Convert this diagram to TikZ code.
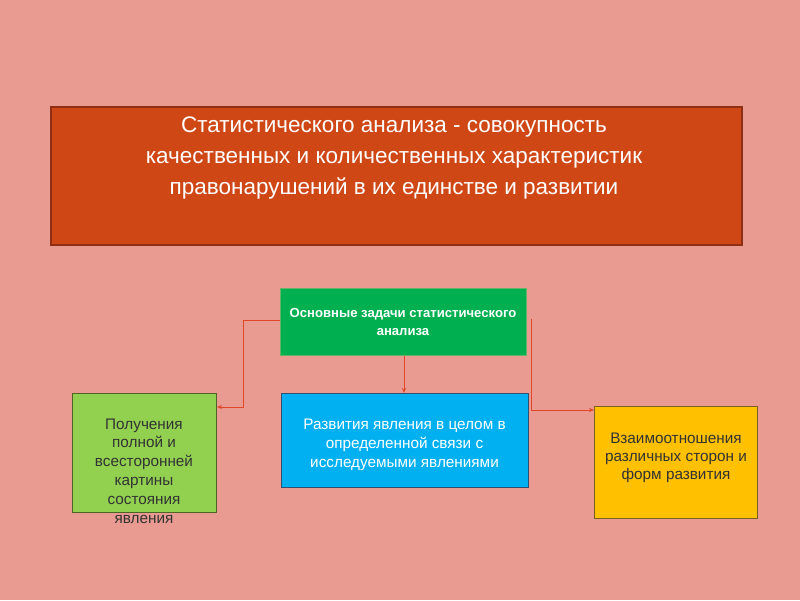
\documentclass[tikz,border=0pt]{standalone}
\usepackage{fontspec}
\setmainfont{Liberation Sans}
\usetikzlibrary{arrows.meta}
\definecolor{bgc}{HTML}{E99A91}
\definecolor{titlec}{HTML}{D04716}
\definecolor{titleb}{HTML}{8E2E12}
\definecolor{greenc}{HTML}{00B050}
\definecolor{bluec}{HTML}{00B0F0}
\definecolor{blueb}{HTML}{2F4F6F}
\definecolor{lgreenc}{HTML}{92D050}
\definecolor{lgreenb}{HTML}{4F6228}
\definecolor{yellowc}{HTML}{FFC000}
\definecolor{yellowb}{HTML}{7F5F20}
\definecolor{linec}{HTML}{E0472A}
\definecolor{darktext}{HTML}{333333}
\tikzset{
  box/.style={draw, line width=1pt, inner sep=0pt},
  lbl/.style={align=center, inner sep=0pt},
  conn/.style={draw=linec, line width=0.9pt, -{Stealth[length=5pt,width=4pt]}}
}
\begin{document}
\begin{tikzpicture}[x=1pt,y=-1pt]
\fill[bgc] (0,0) rectangle (800,600);
\useasboundingbox (0,0) rectangle (800,600);
% title
\node[box, draw=titleb, fill=titlec, line width=1.5pt, minimum width=691, minimum height=138, anchor=north west] (title) at (50,106) {};
\node[lbl, text=white, font=\fontsize{22.5}{31}\selectfont] (titletxt) at (394,158)
 {Статистического анализа - совокупность\\качественных и количественных характеристик\\правонарушений в их единстве и развитии};
% green
\node[box, draw=green!50!black!60, fill=greenc, minimum width=246, minimum height=67, anchor=north west] (main) at (280,288) {};
\node[lbl, text=white, font=\bfseries\fontsize{13.1}{18}\selectfont] (maintxt) at (403,322)
 {Основные задачи статистического\\анализа};
% light green
\node[box, draw=lgreenb, fill=lgreenc, minimum width=144, minimum height=119, anchor=north west] (left) at (72,393) {};
\node[lbl, text=darktext, font=\fontsize{15.3}{18.8}\selectfont] (lefttxt) at (144,471)
 {Получения\\полной и\\всесторонней\\картины\\состояния\\явления};
% blue
\node[box, draw=blueb, fill=bluec, minimum width=247, minimum height=94, anchor=north west] (mid) at (281,393) {};
\node[lbl, text=white, font=\fontsize{15.3}{19}\selectfont] (midtxt) at (404.5,445)
 {Развития явления в целом в\\определенной связи с\\исследуемыми явлениями};
% yellow
\node[box, draw=yellowb, fill=yellowc, minimum width=163, minimum height=112, anchor=north west] (right) at (594,406) {};
\node[lbl, text=darktext, font=\fontsize{15.3}{18}\selectfont] (righttxt) at (676,458)
 {Взаимоотношения\\различных сторон и\\форм развития};
% connectors
\coordinate (lc) at (243,320);
\coordinate (rc) at (531,319);
\draw[conn] (main.west |- lc) -- (lc) |- (left.east |- 0,407);
\draw[conn] (main.south -| 404,0) -- (mid.north -| 404,0);
\draw[conn] (rc) |- (right.west |- 0,410);
\end{tikzpicture}
\end{document}
